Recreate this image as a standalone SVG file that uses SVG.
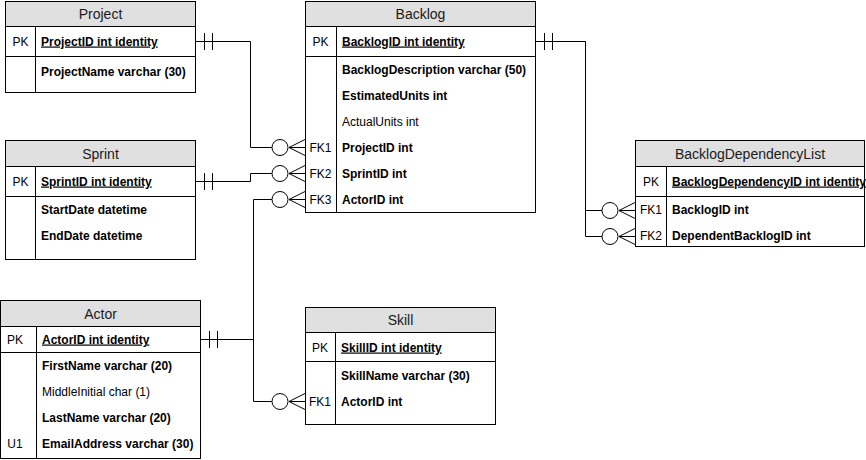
<svg xmlns="http://www.w3.org/2000/svg" width="866" height="460" viewBox="0 0 866 460">
  <style>
    .box { fill: #ffffff; stroke: #000000; stroke-width: 1; }
    .head { fill: #e0e0e0; stroke: #000000; stroke-width: 1; }
    .sep { stroke: #000000; stroke-width: 1; fill: none; }
    .title { font-family: "Liberation Sans", Arial, sans-serif; font-size: 14px; fill: #1a1a1a; text-anchor: middle; }
    .key { font-family: "Liberation Sans", Arial, sans-serif; font-size: 12px; fill: #000000; text-anchor: middle; }
    .col { font-family: "Liberation Sans", Arial, sans-serif; font-size: 12px; fill: #000000; font-weight: bold; }
    .plain { font-weight: normal; }
    .pk { text-decoration: underline; }
    .edge { stroke: #000000; stroke-width: 1; fill: none; }
    .ring { stroke: #000000; stroke-width: 1; fill: #ffffff; }
  </style>

  <!-- relationships -->
  <g id="connectors">
    <!-- Project 1 : N Backlog -->
    <path class="edge" d="M196 41.5 H250.5 V147.5 H272"/>
    <path class="edge" d="M204.5 33 V50 M212.5 33 V50"/>
    <circle class="ring" cx="280" cy="147.5" r="8"/>
    <path class="edge" d="M305 139.5 L289 147.5 L305 155.5 M289 147.5 H305"/>

    <!-- Sprint 1 : N Backlog -->
    <path class="edge" d="M196 181.5 H250.5 V173.5 H272"/>
    <path class="edge" d="M204.5 173 V190 M212.5 173 V190"/>
    <circle class="ring" cx="280" cy="173.5" r="8"/>
    <path class="edge" d="M305 165.5 L289 173.5 L305 181.5 M289 173.5 H305"/>

    <!-- Actor 1 : N Backlog -->
    <path class="edge" d="M201 339.5 H253.5 V199.5 H272"/>
    <circle class="ring" cx="280" cy="199.5" r="8"/>
    <path class="edge" d="M305 191.5 L289 199.5 L305 207.5 M289 199.5 H305"/>

    <!-- Actor 1 : N Skill -->
    <path class="edge" d="M201 339.5 H253.5 V401.5 H272"/>
    <path class="edge" d="M209.5 331 V348 M217.5 331 V348"/>
    <circle class="ring" cx="280" cy="401.5" r="8"/>
    <path class="edge" d="M305 393.5 L289 401.5 L305 409.5 M289 401.5 H305"/>

    <!-- Backlog 1 : N BacklogDependencyList (two roles) -->
    <path class="edge" d="M536 41.5 H585.5 V210.5 H602"/>
    <path class="edge" d="M585.5 41.5 V236.5 H602"/>
    <path class="edge" d="M544.5 33 V50 M552.5 33 V50"/>
    <circle class="ring" cx="610" cy="210.5" r="8"/>
    <path class="edge" d="M635 202.5 L619 210.5 L635 218.5 M619 210.5 H635"/>
    <circle class="ring" cx="610" cy="236.5" r="8"/>
    <path class="edge" d="M635 228.5 L619 236.5 L635 244.5 M619 236.5 H635"/>
  </g>

  <!-- Project -->
  <g id="project">
    <rect class="box" x="5.5" y="1.5" width="190" height="91"/>
    <rect class="head" x="5.5" y="1.5" width="190" height="25"/>
    <path class="sep" d="M5.5 56.5 H195.5 M35.5 26.5 V92.5"/>
    <text class="title" x="100.5" y="19">Project</text>
    <text class="key" x="20.5" y="45.5">PK</text>
    <text class="col pk" x="41" y="45.5">ProjectID int identity</text>
    <text class="col" x="41" y="75.5">ProjectName varchar (30)</text>
  </g>

  <!-- Backlog -->
  <g id="backlog">
    <rect class="box" x="305.5" y="1.5" width="230" height="211"/>
    <rect class="head" x="305.5" y="1.5" width="230" height="25"/>
    <path class="sep" d="M305.5 56.5 H535.5 M336.5 26.5 V212.5"/>
    <text class="title" x="420.5" y="19">Backlog</text>
    <text class="key" x="320.5" y="45.5">PK</text>
    <text class="col pk" x="342" y="45.5">BacklogID int identity</text>
    <text class="col" x="342" y="74">BacklogDescription varchar (50)</text>
    <text class="col" x="342" y="100">EstimatedUnits int</text>
    <text class="col plain" x="342" y="125.5">ActualUnits int</text>
    <text class="key" x="320.5" y="151.5">FK1</text>
    <text class="col" x="342" y="151.5">ProjectID int</text>
    <text class="key" x="320.5" y="177.5">FK2</text>
    <text class="col" x="342" y="177.5">SprintID int</text>
    <text class="key" x="320.5" y="203.5">FK3</text>
    <text class="col" x="342" y="203.5">ActorID int</text>
  </g>

  <!-- Sprint -->
  <g id="sprint">
    <rect class="box" x="5.5" y="140.5" width="190" height="119"/>
    <rect class="head" x="5.5" y="140.5" width="190" height="26"/>
    <path class="sep" d="M5.5 196.5 H195.5 M35.5 166.5 V259.5"/>
    <text class="title" x="100.5" y="158.5">Sprint</text>
    <text class="key" x="20.5" y="185.5">PK</text>
    <text class="col pk" x="41" y="185.5">SprintID int identity</text>
    <text class="col" x="41" y="214">StartDate datetime</text>
    <text class="col" x="41" y="240">EndDate datetime</text>
  </g>

  <!-- Actor -->
  <g id="actor">
    <rect class="box" x="0.5" y="300.5" width="200" height="158"/>
    <rect class="head" x="0.5" y="300.5" width="200" height="26"/>
    <path class="sep" d="M0.5 352.5 H200.5 M36.5 326.5 V458.5"/>
    <text class="title" x="100.5" y="318.5">Actor</text>
    <text class="key" x="15" y="343.5">PK</text>
    <text class="col pk" x="42" y="343.5">ActorID int identity</text>
    <text class="col" x="42" y="370">FirstName varchar (20)</text>
    <text class="col plain" x="42" y="396">MiddleInitial char (1)</text>
    <text class="col" x="42" y="422">LastName varchar (20)</text>
    <text class="key" x="15" y="448">U1</text>
    <text class="col" x="42" y="448">EmailAddress varchar (30)</text>
  </g>

  <!-- Skill -->
  <g id="skill">
    <rect class="box" x="305.5" y="307.5" width="190" height="117"/>
    <rect class="head" x="305.5" y="307.5" width="190" height="25"/>
    <path class="sep" d="M305.5 361.5 H495.5 M335.5 332.5 V424.5"/>
    <text class="title" x="400.5" y="325">Skill</text>
    <text class="key" x="320" y="351.5">PK</text>
    <text class="col pk" x="341" y="351.5">SkillID int identity</text>
    <text class="col" x="341" y="380">SkillName varchar (30)</text>
    <text class="key" x="320" y="405.5">FK1</text>
    <text class="col" x="341" y="405.5">ActorID int</text>
  </g>

  <!-- BacklogDependencyList -->
  <g id="backlog-dependency-list">
    <rect class="box" x="635.5" y="140.5" width="229" height="106"/>
    <rect class="head" x="635.5" y="140.5" width="229" height="26"/>
    <path class="sep" d="M635.5 196.5 H864.5 M666.5 166.5 V246.5"/>
    <text class="title" x="750" y="158.5">BacklogDependencyList</text>
    <text class="key" x="651" y="185.5">PK</text>
    <text class="col pk" x="672" y="185.5">BacklogDependencyID int identity</text>
    <text class="key" x="651" y="214">FK1</text>
    <text class="col" x="672" y="214">BacklogID int</text>
    <text class="key" x="651" y="240">FK2</text>
    <text class="col" x="672" y="240">DependentBacklogID int</text>
  </g>
</svg>
